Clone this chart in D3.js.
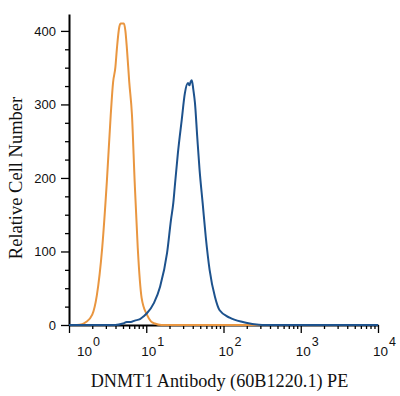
<!DOCTYPE html>
<html>
<head>
<meta charset="utf-8">
<script src="https://cdn.jsdelivr.net/npm/d3@7"></script>
<style>
  html, body { margin: 0; padding: 0; background: #fff; }
  svg { display: block; }
</style>
</head>
<body>
<svg id="chart" width="400" height="396"></svg>
<script>
// ---- data (fluorescence intensity, relative cell count) ----
const isotypeIntensity = [1, 1.26, 1.48, 1.66, 2.0, 2.29, 2.69, 3.09, 3.47, 3.72, 3.98, 4.17, 4.47, 4.68, 5.13, 5.37, 5.62, 6.03, 6.53, 7.08, 7.76, 8.71, 10.2, 11.5, 12.9, 15.8, 10000];
const isotypeCount     = [0, 0, 1, 4, 14, 40, 105, 195, 286, 330, 350, 376, 405, 410, 410, 400, 376, 330, 286, 195, 105, 37, 14, 5, 2, 0, 0];

const antibodyIntensity = [1, 3.98, 5.0, 5.6, 6.3, 7.1, 8.3, 9.3, 10.2, 12.6, 15.1, 18.6, 20.9, 22.4, 23.4, 25.7, 28.8, 31.6, 34.7, 36.3, 37.6, 38.9, 40.7, 42.7, 45.7, 49, 53.7, 58.9, 66.1, 77.6, 89.1, 120, 178, 219, 250, 316, 10000];
const antibodyCount     = [0, 0, 2, 4, 4, 6, 8, 12, 16, 30, 52, 98, 143, 166, 188, 234, 279, 315, 329, 326, 331, 333, 320, 302, 256, 211, 166, 120, 75, 38, 20, 10, 4, 2, 1, 0, 0];

const yMajorTicks = [0, 100, 200, 300, 400];
const yMinorTicks = [25, 50, 75, 125, 150, 175, 225, 250, 275, 325, 350, 375];
const xMajorTicks = [1, 10, 100, 1000, 10000];
const xTickExponents = ["0", "1", "2", "3", "4"];
const xMinorTicks = [2,3,4,5,6,7,8,9, 20,30,40,50,60,70,80,90, 200,300,400,500,600,700,800,900, 2000,3000,4000,5000,6000,7000,8000,9000];

const xTitle = "DNMT1 Antibody (60B1220.1) PE";
const yTitle = "Relative Cell Number";

const isotypeColor = "#E99640";
const antibodyColor = "#1D528D";

// ---- drawing ----
const svg = d3.select("#chart");
const x = d3.scaleLog().domain([1, 10000]).range([69, 378]);
const y = d3.scaleLinear().domain([0, 423]).range([325, 14]);

// y axis
const yMajor = svg.append("g").attr("transform", "translate(69,0)")
  .call(d3.axisLeft(y).tickValues(yMajorTicks).tickSize(8).tickSizeOuter(0).tickPadding(5));
const yMinor = svg.append("g").attr("transform", "translate(69,0)")
  .call(d3.axisLeft(y).tickValues(yMinorTicks).tickSize(4).tickFormat(""));
yMinor.select(".domain").remove();

// x axis
const xMajor = svg.append("g").attr("transform", "translate(0,325)")
  .call(d3.axisBottom(x).tickValues(xMajorTicks).tickSize(8).tickSizeOuter(0).tickFormat(""));
const xMinor = svg.append("g").attr("transform", "translate(0,325)")
  .call(d3.axisBottom(x).tickValues(xMinorTicks).tickSize(4).tickFormat(""));
xMinor.select(".domain").remove();

svg.selectAll(".domain").attr("stroke", "#000").attr("stroke-width", 2);
svg.selectAll(".tick line").attr("stroke", "#000").attr("stroke-width", 1.3);
yMajor.selectAll(".tick text")
  .attr("font-family", "'Liberation Sans', Arial, sans-serif")
  .attr("font-size", 13).attr("fill", "#111");

// x tick labels: 10 with superscript exponent
const xl = svg.append("g").attr("font-family", "'Liberation Sans', Arial, sans-serif").attr("fill", "#111");
xMajorTicks.forEach((v, i) => {
  const px = x(v) + (i === 0 ? 8 : -5);
  const t = xl.append("text").attr("x", px).attr("y", 356).attr("font-size", 13.5);
  t.append("tspan").text("10");
  t.append("tspan").attr("dy", -10).attr("dx", 1).attr("font-size", 12.5).text(xTickExponents[i]);
});

// curves
const line = d3.line().x(d => x(d[0])).y(d => y(d[1])).curve(d3.curveMonotoneX);
const isotype = isotypeIntensity.map((v, i) => [v, isotypeCount[i]]);
const antibody = antibodyIntensity.map((v, i) => [v, antibodyCount[i]]);

svg.append("path").datum(isotype).attr("d", line)
  .attr("fill", "none").attr("stroke", isotypeColor).attr("stroke-width", 2).attr("stroke-linejoin", "round");
svg.append("path").datum(antibody).attr("d", line)
  .attr("fill", "none").attr("stroke", antibodyColor).attr("stroke-width", 2).attr("stroke-linejoin", "round");

// titles
svg.append("text").attr("x", 219.5).attr("y", 387).attr("text-anchor", "middle")
  .attr("font-family", "'Liberation Serif', 'Times New Roman', serif").attr("font-size", 18.2).attr("fill", "#111")
  .text(xTitle);
svg.append("text").attr("transform", "translate(22,178) rotate(-90)").attr("text-anchor", "middle")
  .attr("font-family", "'Liberation Serif', 'Times New Roman', serif").attr("font-size", 18.5).attr("fill", "#111")
  .text(yTitle);
</script>
</body>
</html>
